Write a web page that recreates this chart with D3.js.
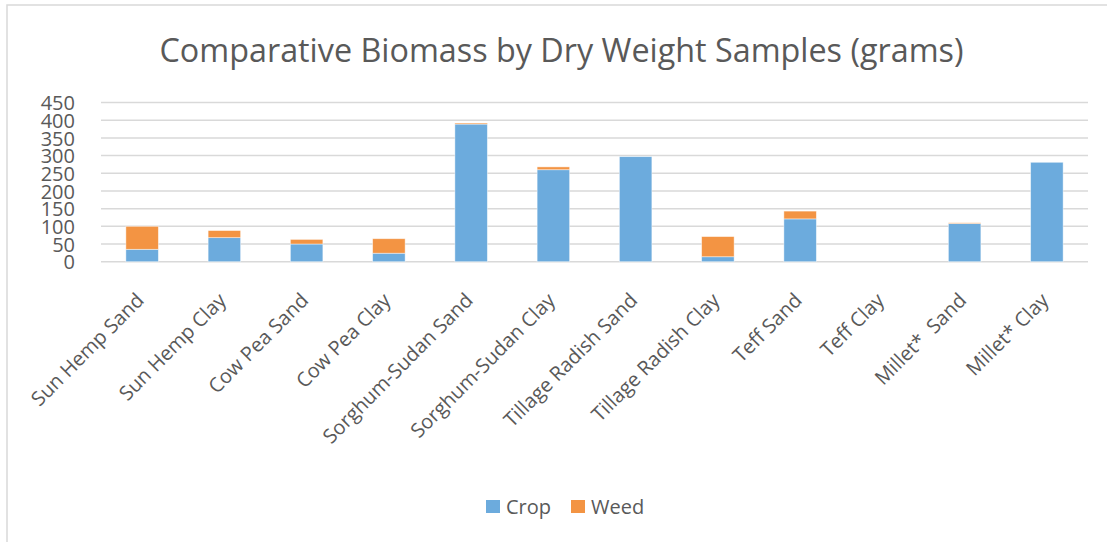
<!DOCTYPE html>
<html>
<head>
<meta charset="utf-8">
<script src="https://cdn.jsdelivr.net/npm/d3@7"></script>
<style>
  html, body { margin: 0; padding: 0; background: #fff; }
  svg { display: block; }
  text { font-family: "Open Sans", "Noto Sans", sans-serif; fill: #595959; }
</style>
</head>
<body>
<svg id="chart" width="1107" height="542"></svg>
<script>
// Dry-weight biomass samples (grams) per cover crop and soil type
const categories = [
  "Sun Hemp Sand", "Sun Hemp Clay", "Cow Pea Sand", "Cow Pea Clay",
  "Sorghum-Sudan Sand", "Sorghum-Sudan Clay", "Tillage Radish Sand", "Tillage Radish Clay",
  "Teff Sand", "Teff Clay", "Millet*  Sand", "Millet* Clay"
];
const cropValues = [35, 68, 50, 24, 389, 260, 297, 14, 121, 0, 108, 281];
const weedValues = [65, 20, 13, 41, 3, 8, 0, 57, 22, 0, 2, 0];
const seriesNames = ["Crop", "Weed"];
const yTicks = [0, 50, 100, 150, 200, 250, 300, 350, 400, 450];
const titleText = "Comparative Biomass by Dry Weight Samples (grams)";

const colors = { Crop: "#6CABDD", Weed: "#F39443" };

const svg = d3.select("#chart");
const W = 1107, H = 542;

// outer chart frame
svg.append("rect")
  .attr("x", 7).attr("y", 5).attr("width", W + 10).attr("height", H + 10)
  .attr("fill", "#fff").attr("stroke", "#d9d9d9").attr("stroke-width", 1.5);

const plot = { left: 101, right: 1088, top: 102.5, bottom: 261.7 };

const x = d3.scaleBand()
  .domain(categories)
  .range([plot.left, plot.right])
  .paddingInner(0.605)
  .paddingOuter(0.3025);

const y = d3.scaleLinear()
  .domain([0, 450])
  .range([plot.bottom, plot.top]);

// title
svg.append("text")
  .attr("x", 561.5).attr("y", 62)
  .attr("text-anchor", "middle")
  .attr("textLength", 804)
  .attr("lengthAdjust", "spacingAndGlyphs")
  .style("font-size", "33px")
  .text(titleText);

// horizontal gridlines
svg.append("g")
  .selectAll("line")
  .data(yTicks)
  .join("line")
  .attr("x1", plot.left).attr("x2", plot.right)
  .attr("y1", d => y(d)).attr("y2", d => y(d))
  .attr("stroke", "#d9d9d9").attr("stroke-width", 1.5);

// y axis labels
const yAxis = d3.axisLeft(y).tickValues(yTicks).tickSize(0).tickPadding(0);
const yG = svg.append("g")
  .attr("transform", `translate(75,0)`)
  .call(yAxis);
yG.select(".domain").remove();
yG.selectAll("text")
  .style("font-size", "20px")
  .style("font-family", "'Open Sans', sans-serif")
  .attr("fill", "#595959")
  .attr("dy", "0.36em");

// stacked bars
const rows = categories.map((c, i) => ({ cat: c, Crop: cropValues[i], Weed: weedValues[i] }));
const stacked = d3.stack().keys(seriesNames)(rows);

svg.append("g")
  .selectAll("g")
  .data(stacked)
  .join("g")
  .attr("fill", d => colors[d.key])
  .selectAll("rect")
  .data(d => d.filter(p => p[1] - p[0] > 0))
  .join("rect")
  .attr("x", d => x(d.data.cat))
  .attr("width", x.bandwidth())
  .attr("y", d => y(d[1]))
  .attr("height", d => y(d[0]) - y(d[1]))
  .attr("stroke", "#ffffff")
  .attr("stroke-opacity", 0.55)
  .attr("stroke-width", 0.8);

// x axis category labels, rotated
const xAxis = d3.axisBottom(x).tickSize(0).tickPadding(0);
const xG = svg.append("g")
  .attr("transform", `translate(0,${plot.bottom})`)
  .call(xAxis);
xG.select(".domain").remove();
xG.selectAll(".tick text")
  .style("font-size", "20px")
  .style("font-family", "'Open Sans', sans-serif")
  .style("white-space", "pre")
  .attr("fill", "#595959")
  .attr("text-anchor", "end")
  .attr("dy", null)
  .attr("y", 0)
  .attr("transform", "translate(3,40) rotate(-45)");

// legend
const legend = svg.append("g").attr("transform", "translate(486,500)");
const legendX = [0, 85];
seriesNames.forEach((s, i) => {
  const g = legend.append("g").attr("transform", `translate(${legendX[i]},0)`);
  g.append("rect").attr("width", 14).attr("height", 13).attr("fill", colors[s]);
  g.append("text").attr("x", 20).attr("y", 14)
    .style("font-size", "20px").text(s);
});
</script>
</body>
</html>
